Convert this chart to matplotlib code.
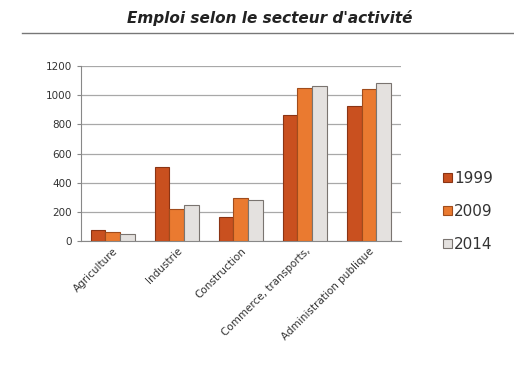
import matplotlib
matplotlib.use("Agg")
import matplotlib.pyplot as plt
import numpy as np
from matplotlib.lines import Line2D

# data
categories = ["Agriculture", "Industrie", "Construction",
              "Commerce, transports,", "Administration publique"]
years = ["1999", "2009", "2014"]
v1999 = [73, 508, 165, 863, 925]
v2009 = [62, 222, 298, 1047, 1042]
v2014 = [46, 245, 282, 1063, 1081]

colors = ["#C9501F", "#EA7A30", "#E4E1DF"]
edges = ["#8A3414", "#A04C1C", "#7A7470"]

plt.rcParams["font.family"] = ["DejaVu Sans"]

fig = plt.figure(figsize=(5.14, 3.75), dpi=100)
ax = fig.add_axes([0.157, 0.357, 0.623, 0.467])

x = np.arange(len(categories))
w = 0.23
for i, (vals, lab) in enumerate(zip([v1999, v2009, v2014], years)):
    ax.bar(x + (i - 1) * w, vals, width=w, color=colors[i],
           edgecolor=edges[i], linewidth=0.8, label=lab, zorder=3)

ax.set_xlim(-0.5, 4.5)
ax.set_ylim(0, 1200)
ax.set_yticks(range(0, 1201, 200))
ax.yaxis.grid(True, color="#a8a8a8", linewidth=0.9, zorder=0)
ax.tick_params(axis="y", labelsize=7.5, colors="#333333", length=3, color="#888888")
ax.tick_params(axis="x", labelsize=7.5, colors="#333333", length=0)
ax.set_xticks(x)
ax.set_xticklabels(categories, rotation=45, ha="right", rotation_mode="anchor")
for s in ["top", "right"]:
    ax.spines[s].set_visible(False)
ax.spines["left"].set_color("#888888")
ax.spines["bottom"].set_color("#888888")

fig.text(0.525, 0.952, "Emploi selon le secteur d'activité", ha="center",
         va="center", fontsize=11, fontweight="bold", fontstyle="italic",
         color="#222222")
fig.add_artist(Line2D([0.043, 1.0], [0.912, 0.912], color="#777777", linewidth=1.0))

leg = ax.legend(loc="center left", bbox_to_anchor=(1.09, 0.17), frameon=False,
                fontsize=11, handlelength=0.55, handleheight=0.55,
                handletextpad=0.15, labelspacing=1.2)
for t in leg.get_texts():
    t.set_color("#333333")

fig.savefig("out.png", dpi=100, facecolor="white")
